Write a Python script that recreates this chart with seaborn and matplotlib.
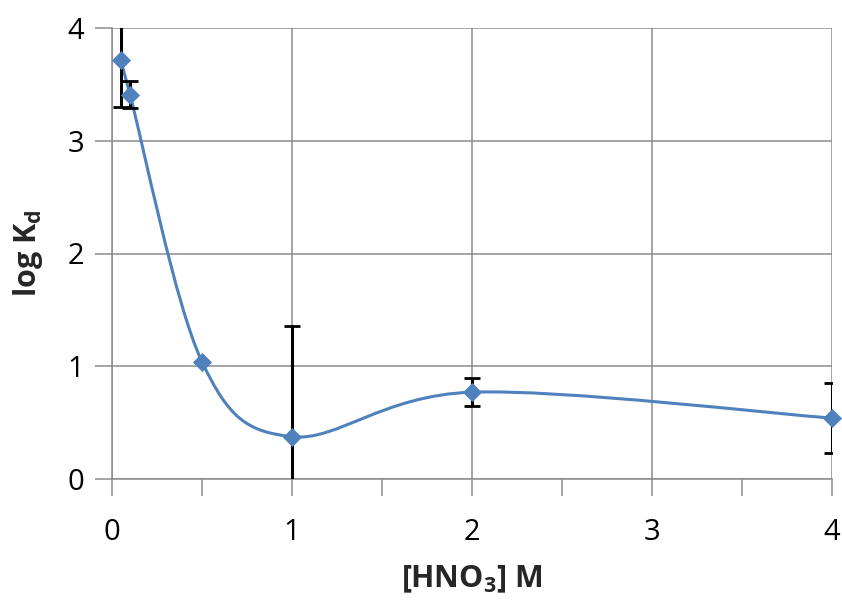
import numpy as np
import pandas as pd
import matplotlib
matplotlib.use("Agg")
import matplotlib.pyplot as plt
from matplotlib.path import Path
from matplotlib.patches import PathPatch
from matplotlib.ticker import MultipleLocator
import seaborn as sns

# HNO3 concentration (M) and distribution coefficients
hno3 = [0.05, 0.1, 0.5, 1.0, 2.0, 4.0]
log_kd = [3.72, 3.41, 1.04, 0.375, 0.77, 0.54]
log_kd_err = [0.42, 0.12, 0.0, 0.98, 0.125, 0.31]

x_ticks = [0, 1, 2, 3, 4]
y_ticks = [0, 1, 2, 3, 4]

sns.set_theme(style="white")
plt.rcParams["font.family"] = ["Open Sans", "DejaVu Sans"]
plt.rcParams["mathtext.fontset"] = "custom"
plt.rcParams["mathtext.rm"] = "Open Sans"
plt.rcParams["mathtext.bf"] = "Open Sans:bold"

df = pd.DataFrame({"hno3": hno3, "log_kd": log_kd, "err": log_kd_err})

fig = plt.figure(figsize=(8.42, 6.0), dpi=100)
ax = fig.add_axes([0.133, 0.2017, 0.855, 0.7516])

line_color = "#4F81BD"
grid_color = "#8c8c8c"

# smoothed connecting curve (cubic Bezier segments, Catmull-Rom style tangents)
pts = df[["hno3", "log_kd"]].to_numpy()
ext = np.vstack([pts[:1], pts, pts[-1:]])
verts = [tuple(pts[0])]
codes = [Path.MOVETO]
for i in range(len(pts) - 1):
    p0, p1, p2, p3 = ext[i], ext[i + 1], ext[i + 2], ext[i + 3]
    c1 = p1 + (p2 - p0) / 6.0
    c2 = p2 - (p3 - p1) / 6.0
    verts += [tuple(c1), tuple(c2), tuple(p2)]
    codes += [Path.CURVE4] * 3
ax.add_patch(PathPatch(Path(verts, codes), facecolor="none",
                       edgecolor=line_color, lw=2.2, zorder=3))

# error bars
eb = ax.errorbar(df["hno3"], df["log_kd"], yerr=df["err"], fmt="none",
                 ecolor="black", elinewidth=2.2, capsize=6, capthick=2.0,
                 zorder=4)
for art in eb.lines[1] + eb.lines[2]:
    art.set_clip_on(True)

# markers
sns.scatterplot(data=df, x="hno3", y="log_kd", marker="D", s=95,
                color=line_color, edgecolor=line_color, linewidth=0,
                ax=ax, zorder=5, legend=False, clip_on=False)

ax.set_xlim(0, 4)
ax.set_ylim(0, 4)
ax.set_xticks(x_ticks)
ax.set_yticks(y_ticks)
ax.xaxis.set_minor_locator(MultipleLocator(0.5))
ax.grid(True, which="major", color=grid_color, lw=1.1)
ax.set_axisbelow(True)

for side in ["top", "right"]:
    ax.spines[side].set_visible(False)
for side in ["left", "bottom"]:
    ax.spines[side].set_color(grid_color)
    ax.spines[side].set_linewidth(1.1)

ax.tick_params(axis="both", which="major", direction="out", length=12,
               width=1.1, color=grid_color, labelsize=21, labelcolor="black",
               left=True, bottom=True, pad=8)
ax.tick_params(axis="x", which="minor", direction="out", length=12,
               width=1.1, color=grid_color, bottom=True)
ax.tick_params(axis="x", which="major", pad=16)

ax.set_xlabel(r"[HNO$_\mathbf{3}$] M", fontsize=22, fontweight="bold",
              labelpad=12)
ax.set_ylabel(r"log K$_\mathbf{d}$", fontsize=22, fontweight="bold",
              labelpad=16)

fig.savefig("out.png", dpi=100)
